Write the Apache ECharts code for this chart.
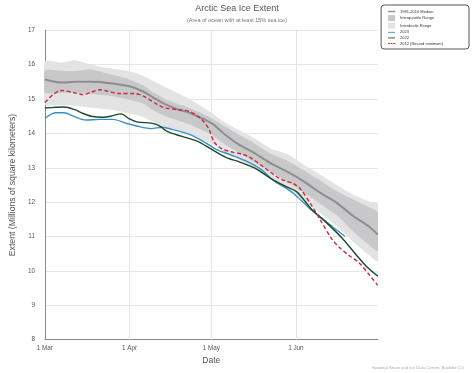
<!DOCTYPE html>
<html>
<head>
<meta charset="utf-8">
<script src="https://cdn.jsdelivr.net/npm/echarts@6/dist/echarts.min.js"></script>
<style>html,body{margin:0;padding:0;background:#fff}#c{width:474px;height:373px}</style>
</head>
<body>
<div id="c"></div>
<script>
// ---- data (days since 1 Mar) ----
const tickDays = [0, 31, 61, 92];
const tickLabels = ['1 Mar', '1 Apr', '1 May', '1 Jun'];

const bandDays = [0,6,11,17,23,31,36,40,44,48,53,61,66,71,77,83,89,95,101,107,113,119,122];
const median   = [15.57,15.48,15.50,15.50,15.47,15.37,15.22,15.03,14.85,14.72,14.60,14.30,13.97,13.68,13.42,13.12,12.88,12.60,12.27,11.98,11.60,11.28,11.06];
const p10      = [14.85,14.82,14.80,14.75,14.70,14.58,14.48,14.32,14.18,14.12,13.97,13.70,13.45,13.25,12.95,12.68,12.35,12.05,11.68,11.30,10.85,10.45,10.28];
const p25      = [15.18,15.18,15.18,15.15,15.10,14.98,14.87,14.66,14.50,14.40,14.26,13.97,13.68,13.45,13.15,12.88,12.58,12.28,11.95,11.62,11.15,10.75,10.58];
const p75      = [15.83,15.82,15.81,15.86,15.74,15.57,15.40,15.18,15.00,14.88,14.74,14.45,14.20,13.97,13.70,13.40,13.20,12.92,12.62,12.32,12.08,11.85,11.70];
const p90      = [16.10,16.06,16.13,16.00,15.90,15.81,15.68,15.52,15.35,15.20,15.00,14.60,14.32,14.10,13.85,13.55,13.40,13.08,12.80,12.50,12.22,12.02,11.95];

const y2023Days = [0,4,7,11,15,20,25,30,35,39,43,47,53,58,63,68,74,79,84,88,91,94,97,101,106,110];
const y2023Vals = [14.44,14.60,14.60,14.48,14.39,14.41,14.41,14.29,14.19,14.14,14.18,14.11,13.97,13.77,13.53,13.38,13.19,12.97,12.62,12.43,12.26,12.05,11.82,11.57,11.25,11.01];

const y2022Days = [0,4,7,11,14,17,21,24,28,31,34,39,42,45,50,56,59,63,67,71,77,83,88,92,94,98,103,109,114,118,122];
const y2022Vals = [14.74,14.76,14.77,14.69,14.58,14.50,14.47,14.50,14.57,14.42,14.33,14.30,14.22,14.05,13.92,13.77,13.64,13.45,13.28,13.18,12.99,12.68,12.47,12.32,12.16,11.77,11.42,10.95,10.48,10.12,9.85];

const y2012Days = [0,3,6,11,14,17,20,23,27,33,37,41,44,49,53,57,60,62,65,69,73,76,80,85,88,91,94,98,101,105,108,112,115,119,122];
const y2012Vals = [14.90,15.13,15.25,15.18,15.13,15.20,15.27,15.23,15.16,15.16,15.05,14.85,14.74,14.69,14.64,14.44,14.15,13.75,13.55,13.45,13.38,13.26,13.03,12.74,12.62,12.55,12.35,11.87,11.48,10.95,10.68,10.42,10.25,9.88,9.58];

const yTicks = {min: 8, max: 17, interval: 1};

// ---- build ----
const pairs = (xs, ys) => xs.map((x, i) => [x, ys[i]]);
const LIGHT = '#e3e3e3', DARK = '#c8c8ca';
const C_MED = '#8e8e8e', C23 = '#3d8fc2', C22 = '#1c4a2c', C12 = '#c9283e';
const font = 'Liberation Sans, Arial, Helvetica, sans-serif';

function bandSeries(name, lower, upper, color, z) {
  return {
    name, type: 'custom', z, silent: true, clip: true,
    itemStyle: {color},
    encode: {x: 0, y: [1, 2]},
    data: bandDays.map((d, i) => [d, lower[i], upper[i]]),
    renderItem: (params, api) => {
      if (params.dataIndex !== 0) return null;
      const top = bandDays.map((d, i) => api.coord([d, upper[i]]));
      const bot = bandDays.map((d, i) => api.coord([d, lower[i]])).reverse();
      return {
        type: 'polygon',
        shape: {points: top.concat(bot), smooth: 0.2},
        style: {fill: color, stroke: null}
      };
    }
  };
}

const gridHolder = {
  name: 'monthGrid', type: 'line', symbol: 'none', z: 1, silent: true,
  data: pairs(bandDays, p10),
  lineStyle: {opacity: 0, width: 0},
  markLine: {
    silent: true, symbol: 'none', label: {show: false}, animation: false, z: 1,
    lineStyle: {color: '#e4e4e4', type: 'solid', width: 1},
    emphasis: {disabled: true},
    data: tickDays.slice(1).map(d => ({xAxis: d}))
  }
};

const lineIcon = 'path://M0,0H20V2.6H0Z';
const medIcon = 'path://M0,0H20V4H0Z';
const dashIcon = 'path://M0,0H5V2.6H0ZM7.5,0H12.5V2.6H7.5ZM15,0H20V2.6H15Z';

const chart = echarts.init(document.getElementById('c'), null, {renderer: 'canvas'});
chart.setOption({
  animation: false,
  textStyle: {fontFamily: font},
  title: {
    text: 'Arctic Sea Ice Extent',
    subtext: '(Area of ocean with at least 15% sea ice)',
    left: 'center', top: 4.5, padding: 0, itemGap: 4,
    textStyle: {fontSize: 9, fontWeight: 'normal', color: '#555', fontFamily: font},
    subtextStyle: {fontSize: 5.5, color: '#777', fontFamily: font}
  },
  legend: {
    orient: 'vertical', right: 5, top: 5,
    padding: [4.5, 26, 3.5, 7],
    itemWidth: 7, itemHeight: 6, itemGap: 1.6,
    borderColor: '#555', borderWidth: 1, borderRadius: 3,
    textStyle: {fontSize: 4, color: '#333', fontFamily: font},
    data: [
      {name: '1981-2010 Median', icon: medIcon, itemStyle: {color: C_MED}},
      {name: 'Interquartile Range', icon: 'rect'},
      {name: 'Interdecile Range', icon: 'rect'},
      {name: '2023', icon: lineIcon, itemStyle: {color: C23}},
      {name: '2022', icon: lineIcon, itemStyle: {color: C22}},
      {name: '2012 (Record minimum)', icon: dashIcon, itemStyle: {color: C12}}
    ]
  },
  grid: {left: 37.7, right: 96.3, top: 30.3, bottom: 33.3},
  xAxis: {
    type: 'value', min: 0, max: 122,
    name: 'Date', nameLocation: 'middle', nameGap: 16.5,
    nameTextStyle: {fontSize: 8.5, color: '#555', fontFamily: font},
    axisLine: {show: true, lineStyle: {color: '#888', width: 1}},
    axisTick: {show: false, customValues: tickDays},
    splitLine: {show: false},
    axisLabel: {
      customValues: tickDays, fontSize: 6.3, color: '#555', margin: 5.5,
      formatter: v => tickLabels[tickDays.indexOf(v)] || ''
    }
  },
  yAxis: {
    type: 'value', min: yTicks.min, max: yTicks.max, interval: yTicks.interval,
    name: 'Extent (Millions of square kilometers)', nameLocation: 'middle', nameGap: 20.5,
    nameTextStyle: {fontSize: 8.7, color: '#555', fontFamily: font},
    axisLine: {show: true, lineStyle: {color: '#888', width: 1}},
    axisTick: {show: false},
    splitLine: {lineStyle: {color: '#e6e6e6', width: 1}},
    axisLabel: {fontSize: 6.3, color: '#555', margin: 10}
  },
  graphic: [{
    type: 'text', right: 10, bottom: 3,
    style: {text: 'National Snow and Ice Data Center, Boulder CO', fontSize: 4.3, fill: '#aaa', fontFamily: font}
  }],
  series: [
    gridHolder,
    bandSeries('Interdecile Range', p10, p90, LIGHT, 2),
    bandSeries('Interquartile Range', p25, p75, DARK, 2),
    {
      name: '1981-2010 Median', type: 'line', smooth: 0.3, symbol: 'none', z: 3,
      data: pairs(bandDays, median),
      itemStyle: {color: C_MED}, lineStyle: {color: C_MED, width: 2}
    },
    {
      name: '2023', type: 'line', smooth: 0.3, symbol: 'none', z: 4,
      data: pairs(y2023Days, y2023Vals),
      itemStyle: {color: C23}, lineStyle: {color: C23, width: 1.4}
    },
    {
      name: '2022', type: 'line', smooth: 0.3, symbol: 'none', z: 5,
      data: pairs(y2022Days, y2022Vals),
      itemStyle: {color: C22}, lineStyle: {color: C22, width: 1.4}
    },
    {
      name: '2012 (Record minimum)', type: 'line', smooth: 0.3, symbol: 'none', z: 6,
      data: pairs(y2012Days, y2012Vals),
      itemStyle: {color: C12}, lineStyle: {color: C12, width: 1.4, type: [4, 2.5]}
    }
  ]
});
</script>
</body>
</html>
